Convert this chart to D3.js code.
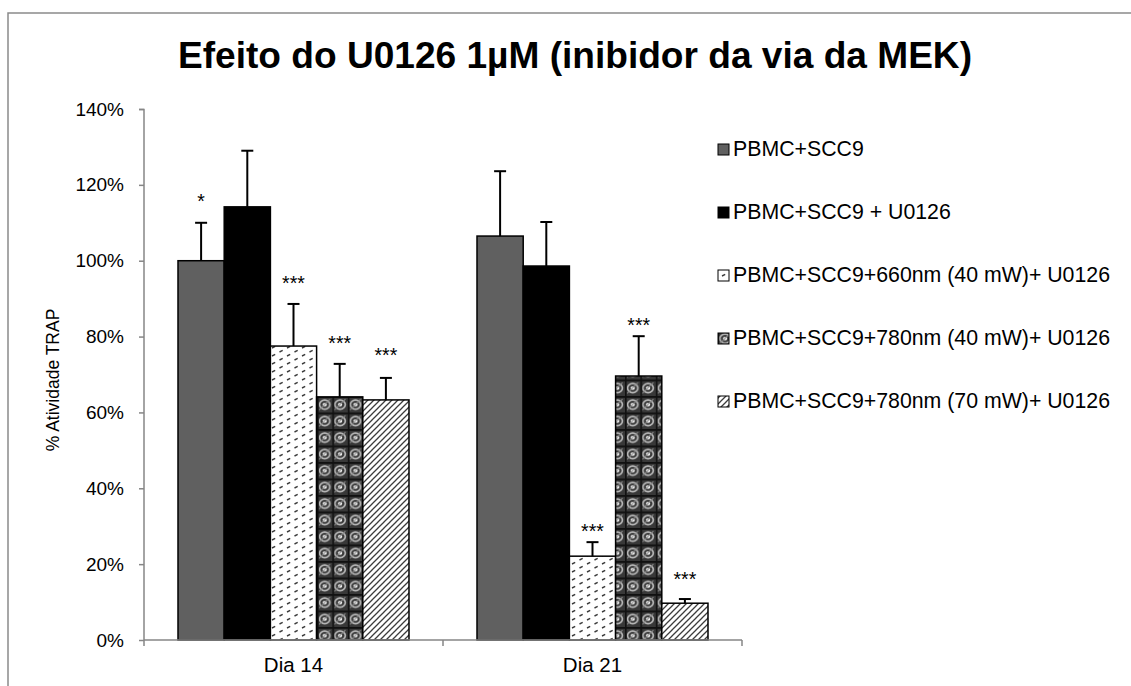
<!DOCTYPE html>
<html>
<head>
<meta charset="utf-8">
<script src="https://cdn.jsdelivr.net/npm/d3@7"></script>
<style>
  html, body { margin: 0; padding: 0; background: #fff; }
  svg { display: block; font-family: "Liberation Sans", Arial, sans-serif; }
</style>
</head>
<body>
<svg id="chart" width="1131" height="686"></svg>
<script>
// Days of culture (categories)
const categories = ["Dia 14", "Dia 21"];

// Treatment groups
const seriesNames = [
  "PBMC+SCC9",
  "PBMC+SCC9 + U0126",
  "PBMC+SCC9+660nm (40 mW)+ U0126",
  "PBMC+SCC9+780nm (40 mW)+ U0126",
  "PBMC+SCC9+780nm (70 mW)+ U0126"
];

// Mean TRAP activity (fraction of control), one entry per day
const valS1 = [1.000, 1.065];
const valS2 = [1.142, 0.986];
const valS3 = [0.775, 0.221];
const valS4 = [0.641, 0.696];
const valS5 = [0.633, 0.097];

// Upper error (standard deviation)
const errS1 = [0.100, 0.171];
const errS2 = [0.148, 0.116];
const errS3 = [0.111, 0.037];
const errS4 = [0.087, 0.105];
const errS5 = [0.058, 0.011];

// Significance marks and the level at which they are written
const sigS1 = ["*", ""];
const sigS2 = ["", ""];
const sigS3 = ["***", "***"];
const sigS4 = ["***", "***"];
const sigS5 = ["***", "***"];
const sigLevelS1 = [1.165, null];
const sigLevelS2 = [null, null];
const sigLevelS3 = [0.949, 0.295];
const sigLevelS4 = [0.791, 0.838];
const sigLevelS5 = [0.759, 0.169];

// Y axis ticks
const yTicks = [0, 0.2, 0.4, 0.6, 0.8, 1.0, 1.2, 1.4];

const title = "Efeito do U0126 1µM (inibidor da via da MEK)";
const yLabel = "% Atividade TRAP";

const values = [valS1, valS2, valS3, valS4, valS5];
const errors = [errS1, errS2, errS3, errS4, errS5];
const sigs = [sigS1, sigS2, sigS3, sigS4, sigS5];
const sigLevels = [sigLevelS1, sigLevelS2, sigLevelS3, sigLevelS4, sigLevelS5];

const rows = [];
categories.forEach((c, ci) => {
  seriesNames.forEach((s, si) => {
    rows.push({
      cat: c, series: s, si,
      value: values[si][ci],
      err: errors[si][ci],
      sig: sigs[si][ci],
      sigLevel: sigLevels[si][ci]
    });
  });
});

const svg = d3.select("#chart");
const defs = svg.append("defs");

// --- fill patterns ---
// sparse small dashes
const p3 = defs.append("pattern").attr("id", "pat3")
  .attr("patternUnits", "userSpaceOnUse").attr("width", 15).attr("height", 16);
p3.append("rect").attr("width", 15).attr("height", 16).attr("fill", "#fff");
[[2, 4], [9.5, 8], [2, 12], [9.5, 16], [9.5, 0]].forEach(([x, y]) => {
  p3.append("line").attr("x1", x).attr("y1", y).attr("x2", x + 3.2).attr("y2", y - 1.6)
    .attr("stroke", "#3a3a3a").attr("stroke-width", 1.4);
});

// dark woven grid
const p4 = defs.append("pattern").attr("id", "pat4")
  .attr("patternUnits", "userSpaceOnUse").attr("width", 15.4).attr("height", 16.5)
  .attr("x", 317).attr("y", 0);
p4.append("rect").attr("width", 15.4).attr("height", 16.5).attr("fill", "#383838");
p4.append("ellipse").attr("cx", 7.7).attr("cy", 8.6).attr("rx", 5.2).attr("ry", 4.6)
  .attr("fill", "none").attr("stroke", "#bdbdbd").attr("stroke-width", 1.6);
p4.append("ellipse").attr("cx", 7.7).attr("cy", 8.6).attr("rx", 2.2).attr("ry", 1.8)
  .attr("fill", "#f4f4f4");
p4.append("line").attr("x1", 2).attr("y1", 14).attr("x2", 13).attr("y2", 3)
  .attr("stroke", "#8a8a8a").attr("stroke-width", 1);
p4.append("rect").attr("x", 0).attr("y", 0).attr("width", 15.4).attr("height", 1.8).attr("fill", "#111");
p4.append("rect").attr("x", 0).attr("y", 0).attr("width", 1.6).attr("height", 16.5).attr("fill", "#111");

// wide upward diagonal
const p5 = defs.append("pattern").attr("id", "pat5")
  .attr("patternUnits", "userSpaceOnUse").attr("width", 6).attr("height", 6);
p5.append("rect").attr("width", 6).attr("height", 6).attr("fill", "#fff");
p5.append("path").attr("d", "M-1,7 L7,-1 M-4,4 L4,-4 M2,10 L10,2")
  .attr("stroke", "#3c3c3c").attr("stroke-width", 1.3);

const fills = ["#606060", "#000000", "url(#pat3)", "url(#pat4)", "url(#pat5)"];

// --- outer frame (left and top edges) ---
svg.append("path").attr("d", "M8,686 L8,13 L1131,13")
  .attr("fill", "none").attr("stroke", "#8a8a8a").attr("stroke-width", 1.5);

// --- scales ---
const x0 = d3.scaleBand().domain(categories).range([144, 742]).paddingInner(0).paddingOuter(0);
const x1 = d3.scaleBand().domain(seriesNames).range([0, x0.bandwidth()])
  .paddingInner(0).paddingOuter(0.736);
const y = d3.scaleLinear().domain([0, 1.4]).range([640, 109]);

const axisColor = "#868686";

// --- y axis ---
const yAxis = svg.append("g").attr("transform", "translate(144,0)")
  .call(d3.axisLeft(y).tickValues(yTicks).tickFormat(d3.format(".0%")).tickSize(5).tickPadding(15));
yAxis.select(".domain").attr("stroke", axisColor).attr("stroke-width", 1.5).attr("d", "M-5,109.5H0V640");
yAxis.selectAll(".tick line").attr("stroke", axisColor).attr("stroke-width", 1.5);
yAxis.selectAll(".tick text").attr("font-size", 19).attr("fill", "#000")
  .attr("font-family", "Liberation Sans, Arial, sans-serif");

// --- bars ---
const barG = svg.append("g");
barG.selectAll("rect.bar").data(rows).join("rect")
  .attr("class", "bar")
  .attr("x", d => x0(d.cat) + x1(d.series))
  .attr("y", d => y(d.value))
  .attr("width", x1.bandwidth())
  .attr("height", d => y(0) - y(d.value))
  .attr("fill", d => fills[d.si])
  .attr("stroke", "#000").attr("stroke-width", 1.5);

// --- error bars ---
const errG = svg.append("g").attr("stroke", "#000").attr("stroke-width", 2);
rows.forEach(d => {
  const cx = x0(d.cat) + x1(d.series) + x1.bandwidth() / 2;
  errG.append("line").attr("x1", cx).attr("x2", cx)
    .attr("y1", y(d.value)).attr("y2", y(d.value + d.err));
  errG.append("line").attr("x1", cx - 6).attr("x2", cx + 6)
    .attr("y1", y(d.value + d.err)).attr("y2", y(d.value + d.err));
});

// --- significance marks ---
svg.append("g").selectAll("text").data(rows.filter(d => d.sig)).join("text")
  .attr("x", d => x0(d.cat) + x1(d.series) + x1.bandwidth() / 2)
  .attr("y", d => y(d.sigLevel) + 10)
  .attr("text-anchor", "middle")
  .attr("font-size", 19.5)
  .attr("fill", "#000")
  .text(d => d.sig);

// --- x axis ---
const xAxisG = svg.append("g").attr("transform", "translate(0,640)");
xAxisG.append("line").attr("x1", 144).attr("x2", 742).attr("y1", 0).attr("y2", 0)
  .attr("stroke", axisColor).attr("stroke-width", 1.5);
const boundaries = [x0(categories[0]), ...categories.map(c => x0(c) + x0.bandwidth())];
xAxisG.selectAll("line.tk").data(boundaries).join("line").attr("class", "tk")
  .attr("x1", d => d).attr("x2", d => d).attr("y1", 0).attr("y2", 6)
  .attr("stroke", axisColor).attr("stroke-width", 1.5);
xAxisG.selectAll("text").data(categories).join("text")
  .attr("x", d => x0(d) + x0.bandwidth() / 2)
  .attr("y", 32)
  .attr("text-anchor", "middle")
  .attr("font-size", 20.5)
  .attr("fill", "#000")
  .text(d => d);

// --- y axis title ---
svg.append("text")
  .attr("transform", "translate(59,380) rotate(-90)")
  .attr("text-anchor", "middle")
  .attr("font-size", 17.5)
  .attr("fill", "#000")
  .text(yLabel);

// --- chart title ---
svg.append("text")
  .attr("x", 575).attr("y", 68)
  .attr("text-anchor", "middle")
  .attr("font-size", 36)
  .attr("font-weight", "bold")
  .attr("textLength", 794)
  .attr("lengthAdjust", "spacingAndGlyphs")
  .attr("fill", "#000")
  .text(title);

// --- legend ---
const legend = svg.append("g");
seriesNames.forEach((s, i) => {
  const ly = 156 + i * 63;
  legend.append("rect")
    .attr("x", 718).attr("y", ly - 12).attr("width", 11).attr("height", 11)
    .attr("fill", fills[i]).attr("stroke", "#000").attr("stroke-width", 1);
  legend.append("text")
    .attr("x", 733).attr("y", ly)
    .attr("font-size", 21.3)
    .attr("fill", "#000")
    .text(s);
});
</script>
</body>
</html>
